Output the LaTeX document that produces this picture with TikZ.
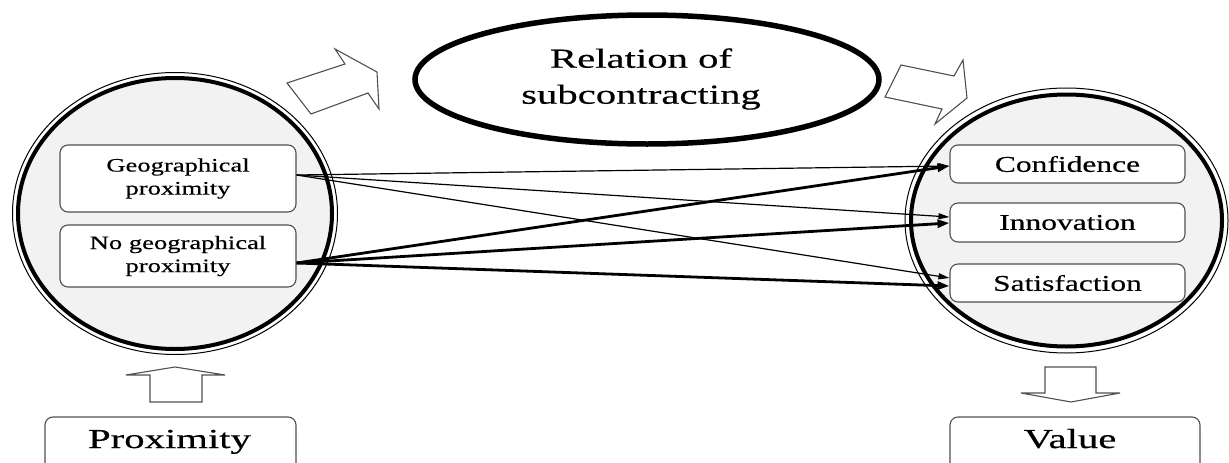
\documentclass[tikz,border=0pt]{standalone}
\usepackage{fontspec}
\usetikzlibrary{shapes.geometric,arrows.meta}
\newfontfamily\boxfont[FakeStretch=1.4,FakeBold=0.4]{Liberation Serif}
\newfontfamily\bigfont[FakeStretch=1.48,FakeBold=0.4]{Liberation Serif}
\definecolor{ringfill}{HTML}{F2F2F2}
\definecolor{edgegray}{HTML}{505050}
\begin{document}
\begin{tikzpicture}[x=1pt,y=-1pt,
  ring/.style={ellipse, draw, line width=4pt, fill=ringfill, inner sep=0pt},
  itembox/.style={draw=edgegray, line width=1.1pt, rounded corners=8pt, fill=white, inner sep=0pt},
  smalltext/.style={font=\boxfont\fontsize{19}{23}\selectfont, align=center},
  midtext/.style={font=\boxfont\fontsize{22.5}{26}\selectfont},
  bigtext/.style={font=\bigfont\fontsize{27.5}{36}\selectfont, align=center},
  blockarrow/.style={draw=edgegray, line width=1.1pt, fill=white, line join=miter},
  thinlink/.style={line width=1.2pt, -{Triangle[length=11pt,width=6pt]}},
  thicklink/.style={line width=2.8pt, -{Triangle[length=12pt,width=8pt]}}]
\useasboundingbox (0,0) rectangle (1229,463);
\clip (0,0) rectangle (1229,463);

% left ring: proximity forms
\draw[line width=1pt] (175,213.5) ellipse [x radius=162.5, y radius=141];
\node[ring, minimum width=314pt, minimum height=271pt] (left) at (175,213.5) {};

% right ring: value dimensions
\draw[line width=1pt] (1066.5,220.5) ellipse [x radius=161.5, y radius=132.5];
\node[ring, minimum width=311pt, minimum height=252pt] (right) at (1066.5,220.5) {};

% subcontracting ellipse
\node[ellipse, draw, line width=5.5pt, minimum width=464pt, minimum height=129pt,
      inner sep=0pt] (rel) at (647,79.5) {};
\node[bigtext] (reltext) at (641,79) {Relation of\\subcontracting};

% inner boxes, left
\node[itembox, minimum width=236pt, minimum height=67pt] (geo) at (178,178.5) {};
\node[smalltext] (geotext) at (geo.center) {Geographical\\proximity};
\node[itembox, minimum width=236pt, minimum height=62pt] (nogeo) at (178,256) {};
\node[smalltext] (nogeotext) at (nogeo.center) {No geographical\\proximity};

% inner boxes, right
\node[itembox, minimum width=235pt, minimum height=38pt] (conf) at (1067.5,164) {};
\node[midtext] (conftext) at (conf.center) {Confidence};
\node[itembox, minimum width=235pt, minimum height=39pt] (inno) at (1067.5,222.5) {};
\node[midtext] (innotext) at (inno.center) {Innovation};
\node[itembox, minimum width=235pt, minimum height=38pt] (sat) at (1067.5,283) {};
\node[midtext] (sattext) at (sat.center) {Satisfaction};

% bottom boxes
\node[itembox, minimum width=251pt, minimum height=60pt] (prox) at (170.5,447) {};
\node[bigtext, anchor=base] (proxtext) at (169.5,448) {Proximity};
\node[itembox, minimum width=250pt, minimum height=60pt] (val) at (1075,447) {};
\node[bigtext, anchor=base] (valtext) at (1070,448) {Value};

% links
\draw[thinlink] ([yshift=3.5pt]geo.east) -- ([yshift=-2pt]conf.west);
\draw[thinlink] ([yshift=3.5pt]geo.east) -- ([yshift=5.5pt]inno.west);
\draw[thinlink] ([yshift=3.5pt]geo.east) -- ([yshift=5pt]sat.west);
\draw[thicklink] ([yshift=-7pt]nogeo.east) -- ([yshift=-2pt]conf.west);
\draw[thicklink] ([yshift=-7pt]nogeo.east) -- ([yshift=-0.5pt]inno.west);
\draw[thicklink] ([yshift=-7pt]nogeo.east) -- ([yshift=-3pt]sat.west);

% block arrows
\draw[blockarrow] (287,83) -- (345,64) -- (335,49) -- (377,72) -- (379,109)
  -- (368,93) -- (311,114) -- cycle;
\draw[blockarrow] (885,97) -- (901,65) -- (954,76) -- (963,60) -- (967,98)
  -- (935,124) -- (942,109) -- cycle;
\draw[blockarrow] (150,402) -- (150,375) -- (126,375) -- (175,367) -- (225,375)
  -- (202,375) -- (202,402) -- cycle;
\draw[blockarrow] (1045,367) -- (1096,367) -- (1096,393) -- (1120,393) -- (1071,402)
  -- (1021,393) -- (1045,393) -- cycle;
\end{tikzpicture}
\end{document}
